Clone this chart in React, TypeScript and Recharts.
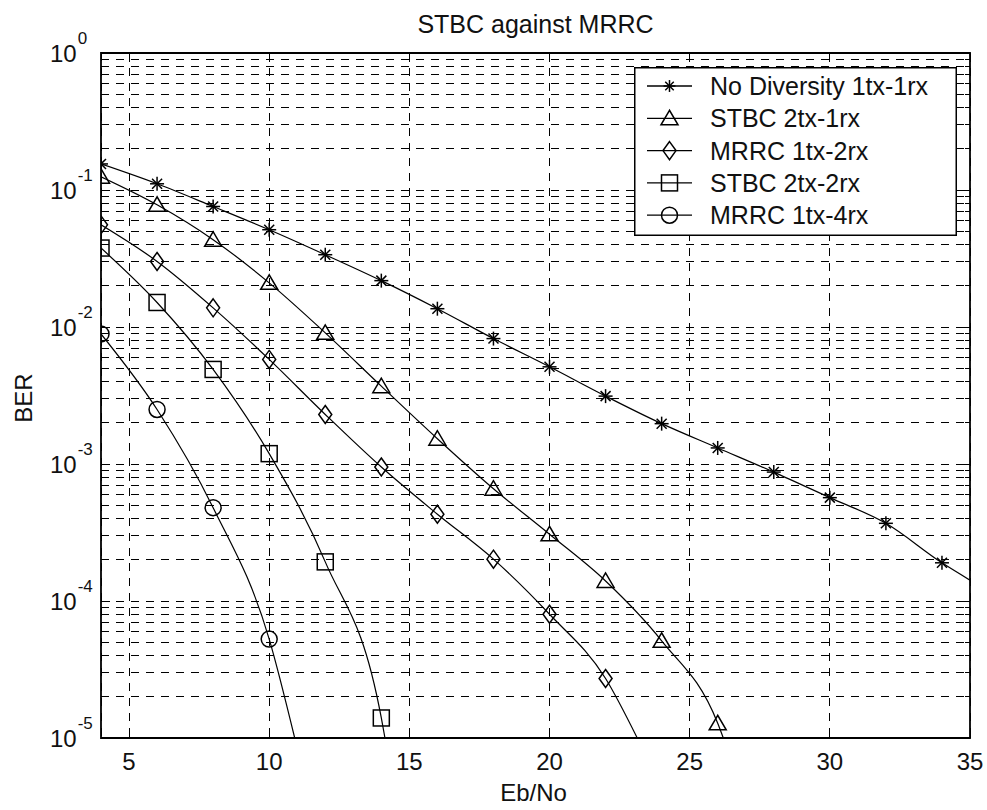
import React from 'react';
import { LineChart, Line, XAxis, YAxis, CartesianGrid, ReferenceArea, Legend } from 'recharts';

// ---------- data ----------
const seriesNames = [
  'No Diversity 1tx-1rx',
  'STBC 2tx-1rx',
  'MRRC 1tx-2rx',
  'STBC 2tx-2rx',
  'MRRC 1tx-4rx',
];
const seriesShapes = ['star', 'tri', 'diamond', 'square', 'circle'];

const noDivX = [4, 6, 8, 10, 12, 14, 16, 18, 20, 22, 24, 26, 28, 30, 32, 34];
const noDivBER = [0.155, 0.111, 0.0758, 0.0513, 0.0337, 0.0218, 0.0136, 0.00823, 0.00512, 0.00313, 0.00197, 0.00131, 0.000873, 0.000568, 0.000369, 0.00019];
const noDivTail = { x: 35, y: 0.000142 };

const stbc21X = [4, 6, 8, 10, 12, 14, 16, 18, 20, 22, 24, 26];
const stbc21BER = [0.125, 0.078, 0.0434, 0.021, 0.00906, 0.0037, 0.00153, 0.00066, 0.000307, 0.00014, 5.12e-5, 1.28e-5];
const stbc21Tail = { x: 26.2, y: 1e-5 };

const mrrc12X = [4, 6, 8, 10, 12, 14, 16, 18, 20, 22];
const mrrc12BER = [0.0557, 0.0301, 0.0138, 0.0058, 0.0023, 0.00095, 0.00043, 0.000202, 8.0e-5, 2.72e-5];
const mrrc12Tail = { x: 23.13, y: 1e-5 };

const stbc22X = [4, 6, 8, 10, 12, 14];
const stbc22BER = [0.0377, 0.0151, 0.0049, 0.00119, 0.000193, 1.4e-5];
const stbc22Tail = { x: 14.13, y: 1e-5 };

const mrrc14X = [4, 6, 8, 10];
const mrrc14BER = [0.0089, 0.0025, 0.00048, 5.27e-5];
const mrrc14Tail = { x: 10.91, y: 1e-5 };

const xTicks = [5, 10, 15, 20, 25, 30, 35];
const yDecadeExps = [-5, -4, -3, -2, -1, 0];
const yMantissas = [1, 2, 3, 4, 5, 6, 7, 8, 9];

// ---------- derived ----------
const yTicks: number[] = [];
yDecadeExps.forEach((e) => {
  yMantissas.forEach((m) => {
    if (e === 0 && m > 1) return;
    yTicks.push(parseFloat((m * Math.pow(10, e)).toPrecision(6)));
  });
});

function build(xs: number[], ys: number[], tail: { x: number; y: number }) {
  return { pts: xs.map((x, i) => ({ x, y: ys[i] })), tail };
}
const seriesRaw = [
  build(noDivX, noDivBER, noDivTail),
  build(stbc21X, stbc21BER, stbc21Tail),
  build(mrrc12X, mrrc12BER, mrrc12Tail),
  build(stbc22X, stbc22BER, stbc22Tail),
  build(mrrc14X, mrrc14BER, mrrc14Tail),
];
const series = seriesRaw.map((s, i) => ({
  name: seriesNames[i],
  shape: seriesShapes[i],
  nMarkers: s.pts.length,
  data: [...s.pts, s.tail],
}));

// ---------- layout ----------
const W = 987;
const H = 810;
const PL = 101;
const PR = 970;
const PT = 53;
const PB = 738;
const FONT = '"Liberation Sans", Arial, Helvetica, sans-serif';
const TXT = '#111';

function Marker({ shape, cx, cy, s = 1 }: { shape: string; cx: number; cy: number; s?: number }) {
  const st = { stroke: '#000', strokeWidth: 1.5, fill: 'none' } as const;
  if (shape === 'star') {
    const r = 7 * s;
    const d = 5 * s;
    return (
      <g {...st}>
        <line x1={cx - r} y1={cy} x2={cx + r} y2={cy} />
        <line x1={cx} y1={cy - r} x2={cx} y2={cy + r} />
        <line x1={cx - d} y1={cy - d} x2={cx + d} y2={cy + d} />
        <line x1={cx - d} y1={cy + d} x2={cx + d} y2={cy - d} />
      </g>
    );
  }
  if (shape === 'tri') {
    const pts = `${cx},${cy - 8 * s} ${cx - 8.5 * s},${cy + 6.5 * s} ${cx + 8.5 * s},${cy + 6.5 * s}`;
    return <polygon points={pts} {...st} />;
  }
  if (shape === 'diamond') {
    const pts = `${cx},${cy - 9 * s} ${cx + 6.5 * s},${cy} ${cx},${cy + 9 * s} ${cx - 6.5 * s},${cy}`;
    return <polygon points={pts} {...st} />;
  }
  if (shape === 'square') {
    return <rect x={cx - 8 * s} y={cy - 8 * s} width={16 * s} height={16 * s} {...st} />;
  }
  return <ellipse cx={cx} cy={cy} rx={8 * s} ry={8 * s} {...st} />;
}

const YTick = (props: any) => {
  const { y, payload } = props;
  const v = payload.value as number;
  const e = Math.round(Math.log10(v));
  const decade = Math.abs(v / Math.pow(10, e) - 1) < 1e-6;
  const len = decade ? 9 : 5;
  return (
    <g>
      <line x1={PL} y1={y} x2={PL + len} y2={y} stroke="#000" strokeWidth={1} shapeRendering="crispEdges" />
      <line x1={PR - len} y1={y} x2={PR} y2={y} stroke="#000" strokeWidth={1} shapeRendering="crispEdges" />
      {decade && (
        <text x={50} y={y + 9} fontFamily={FONT} fontSize={24} fill={TXT}>
          10
          <tspan dx={1} dy={-18} fontSize={17}>
            {String(e)}
          </tspan>
        </text>
      )}
    </g>
  );
};

const XTick = (props: any) => {
  const { x, payload } = props;
  return (
    <g>
      <line x1={x} y1={PB} x2={x} y2={PB - 9} stroke="#000" strokeWidth={1} shapeRendering="crispEdges" />
      <line x1={x} y1={PT} x2={x} y2={PT + 9} stroke="#000" strokeWidth={1} shapeRendering="crispEdges" />
      <text x={x} y={PB + 32} textAnchor="middle" fontFamily={FONT} fontSize={24} fill={TXT}>
        {String(payload.value)}
      </text>
    </g>
  );
};

const LEG_W = 323;
const LEG_H = 169;
const LegendBox = () => (
  <svg width={LEG_W} height={LEG_H} style={{ display: 'block' }}>
    <rect x={0.75} y={0.75} width={LEG_W - 1.5} height={LEG_H - 1.5} fill="#fff" stroke="#000" strokeWidth={1.5} />
    {series.map((s, i) => {
      const cy = 19 + i * 32.3;
      return (
        <g key={s.name}>
          <line x1={13} y1={cy} x2={58} y2={cy} stroke="#000" strokeWidth={1.3} />
          <Marker shape={s.shape} cx={35.5} cy={cy} s={s.shape === 'star' ? 0.85 : 1} />
          <text x={76} y={cy + 9} fontFamily={FONT} fontSize={25} fill={TXT}>
            {s.name}
          </text>
        </g>
      );
    })}
  </svg>
);

export default function App() {
  return (
    <div style={{ position: 'absolute', left: 0, top: 0, width: W, height: H, background: '#fff' }}>
      <div
        style={{
          position: 'absolute',
          left: PL,
          width: PR - PL,
          top: 12,
          textAlign: 'center',
          fontFamily: FONT,
          fontSize: 25,
          lineHeight: '25px',
          color: TXT,
          zIndex: 2,
        }}
      >
        STBC against MRRC
      </div>
      <LineChart
        width={W}
        height={H}
        margin={{ top: PT, right: W - PR, bottom: H - PB - 30, left: PL - 60 }}
      >
        <CartesianGrid stroke="#000" strokeWidth={1} strokeDasharray="8 7" shapeRendering="crispEdges" />
        <XAxis
          type="number"
          dataKey="x"
          domain={[4, 35]}
          ticks={xTicks}
          interval={0}
          allowDataOverflow
          axisLine={false}
          tickLine={false}
          tick={<XTick />}
          height={30}
          label={{
            value: 'Eb/No',
            content: (p: any) => {
              const vb = p.viewBox || { x: PL, width: PR - PL, y: PB };
              return (
                <text x={vb.x + vb.width / 2 - 2} y={801} textAnchor="middle" fontFamily={FONT} fontSize={24} fill={TXT}>
                  Eb/No
                </text>
              );
            },
          }}
        />
        <YAxis
          type="number"
          scale="log"
          domain={[1e-5, 1]}
          ticks={yTicks}
          interval={0}
          allowDataOverflow
          axisLine={false}
          tickLine={false}
          tick={<YTick />}
          width={60}
          label={{
            value: 'BER',
            content: () => (
              <text
                x={23}
                y={398}
                transform="rotate(-90, 23, 398)"
                textAnchor="middle"
                dominantBaseline="central"
                fontFamily={FONT}
                fontSize={24}
                fill={TXT}
              >
                BER
              </text>
            ),
          }}
        />
        <ReferenceArea x1={4} x2={35} y1={1e-5} y2={1} fill="none" stroke="#000" strokeWidth={1.8} fillOpacity={0} />
        {series.map((s) => (
          <Line
            key={s.name}
            name={s.name}
            data={s.data}
            dataKey="y"
            type="monotone"
            stroke="#000"
            strokeWidth={1.2}
            isAnimationActive={false}
            dot={(p: any) =>
              p.index < s.nMarkers ? (
                <Marker key={`${s.name}-${p.index}`} shape={s.shape} cx={p.cx} cy={p.cy} />
              ) : (
                <g key={`${s.name}-${p.index}`} />
              )
            }
            activeDot={false}
          />
        ))}
        <Legend
          layout="vertical"
          align="center"
          verticalAlign="middle"
          wrapperStyle={{ left: 634, top: 67, width: LEG_W, height: LEG_H }}
          content={() => <LegendBox />}
        />
      </LineChart>
    </div>
  );
}
